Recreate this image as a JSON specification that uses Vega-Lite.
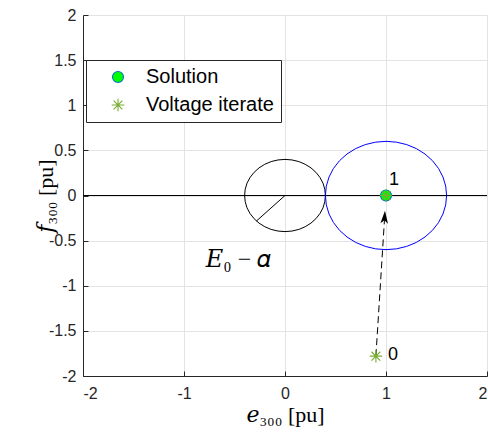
{
  "$schema": "https://vega.github.io/schema/vega-lite/v6.json",
  "autosize": {"type": "none"},
  "width": 404,
  "height": 361,
  "padding": {"left": 83, "top": 15, "right": 1, "bottom": 59},
  "background": "white",
  "view": {"stroke": null},
  "config": {
    "axis": {
      "labelFont": "Liberation Sans",
      "labelFontSize": 16,
      "labelColor": "#262626",
      "domainColor": "#262626",
      "tickColor": "#262626",
      "gridColor": "#e3e3e3",
      "titleFont": "Liberation Serif, DejaVu Serif",
      "titleFontSize": 22,
      "titleFontWeight": "normal",
      "titleColor": "#000000"
    }
  },
  "datasets": {
    "zero": [{"y": 0}],
    "black": [
      {"g": "E0", "k": 0, "x": 0.4, "y": 0},
      {"g": "E0", "k": 1, "x": 0.394, "y": 0.069},
      {"g": "E0", "k": 2, "x": 0.376, "y": 0.137},
      {"g": "E0", "k": 3, "x": 0.346, "y": 0.2},
      {"g": "E0", "k": 4, "x": 0.306, "y": 0.257},
      {"g": "E0", "k": 5, "x": 0.257, "y": 0.306},
      {"g": "E0", "k": 6, "x": 0.2, "y": 0.346},
      {"g": "E0", "k": 7, "x": 0.137, "y": 0.376},
      {"g": "E0", "k": 8, "x": 0.069, "y": 0.394},
      {"g": "E0", "k": 9, "x": 0, "y": 0.4},
      {"g": "E0", "k": 10, "x": -0.069, "y": 0.394},
      {"g": "E0", "k": 11, "x": -0.137, "y": 0.376},
      {"g": "E0", "k": 12, "x": -0.2, "y": 0.346},
      {"g": "E0", "k": 13, "x": -0.257, "y": 0.306},
      {"g": "E0", "k": 14, "x": -0.306, "y": 0.257},
      {"g": "E0", "k": 15, "x": -0.346, "y": 0.2},
      {"g": "E0", "k": 16, "x": -0.376, "y": 0.137},
      {"g": "E0", "k": 17, "x": -0.394, "y": 0.069},
      {"g": "E0", "k": 18, "x": -0.4, "y": 0},
      {"g": "E0", "k": 19, "x": -0.394, "y": -0.069},
      {"g": "E0", "k": 20, "x": -0.376, "y": -0.137},
      {"g": "E0", "k": 21, "x": -0.346, "y": -0.2},
      {"g": "E0", "k": 22, "x": -0.306, "y": -0.257},
      {"g": "E0", "k": 23, "x": -0.257, "y": -0.306},
      {"g": "E0", "k": 24, "x": -0.2, "y": -0.346},
      {"g": "E0", "k": 25, "x": -0.137, "y": -0.376},
      {"g": "E0", "k": 26, "x": -0.069, "y": -0.394},
      {"g": "E0", "k": 27, "x": 0, "y": -0.4},
      {"g": "E0", "k": 28, "x": 0.069, "y": -0.394},
      {"g": "E0", "k": 29, "x": 0.137, "y": -0.376},
      {"g": "E0", "k": 30, "x": 0.2, "y": -0.346},
      {"g": "E0", "k": 31, "x": 0.257, "y": -0.306},
      {"g": "E0", "k": 32, "x": 0.306, "y": -0.257},
      {"g": "E0", "k": 33, "x": 0.346, "y": -0.2},
      {"g": "E0", "k": 34, "x": 0.376, "y": -0.137},
      {"g": "E0", "k": 35, "x": 0.394, "y": -0.069},
      {"g": "E0", "k": 36, "x": 0.4, "y": 0},
      {"g": "R", "k": 0, "x": 0, "y": 0},
      {"g": "R", "k": 1, "x": -0.283, "y": -0.283}
    ],
    "blue": [
      {"k": 0, "x": 1.6, "y": 0},
      {"k": 1, "x": 1.591, "y": 0.104},
      {"k": 2, "x": 1.564, "y": 0.205},
      {"k": 3, "x": 1.52, "y": 0.3},
      {"k": 4, "x": 1.46, "y": 0.386},
      {"k": 5, "x": 1.386, "y": 0.46},
      {"k": 6, "x": 1.3, "y": 0.52},
      {"k": 7, "x": 1.205, "y": 0.564},
      {"k": 8, "x": 1.104, "y": 0.591},
      {"k": 9, "x": 1, "y": 0.6},
      {"k": 10, "x": 0.896, "y": 0.591},
      {"k": 11, "x": 0.795, "y": 0.564},
      {"k": 12, "x": 0.7, "y": 0.52},
      {"k": 13, "x": 0.614, "y": 0.46},
      {"k": 14, "x": 0.54, "y": 0.386},
      {"k": 15, "x": 0.48, "y": 0.3},
      {"k": 16, "x": 0.436, "y": 0.205},
      {"k": 17, "x": 0.409, "y": 0.104},
      {"k": 18, "x": 0.4, "y": 0},
      {"k": 19, "x": 0.409, "y": -0.104},
      {"k": 20, "x": 0.436, "y": -0.205},
      {"k": 21, "x": 0.48, "y": -0.3},
      {"k": 22, "x": 0.54, "y": -0.386},
      {"k": 23, "x": 0.614, "y": -0.46},
      {"k": 24, "x": 0.7, "y": -0.52},
      {"k": 25, "x": 0.795, "y": -0.564},
      {"k": 26, "x": 0.896, "y": -0.591},
      {"k": 27, "x": 1, "y": -0.6},
      {"k": 28, "x": 1.104, "y": -0.591},
      {"k": 29, "x": 1.205, "y": -0.564},
      {"k": 30, "x": 1.3, "y": -0.52},
      {"k": 31, "x": 1.386, "y": -0.46},
      {"k": 32, "x": 1.46, "y": -0.386},
      {"k": 33, "x": 1.52, "y": -0.3},
      {"k": 34, "x": 1.564, "y": -0.205},
      {"k": 35, "x": 1.591, "y": -0.104},
      {"k": 36, "x": 1.6, "y": 0}
    ],
    "arrow": [
      {"k": 0, "x": 0.9, "y": -1.78},
      {"k": 1, "x": 0.986, "y": -0.25}
    ],
    "head": [{"x": 0.986, "y": -0.24}],
    "points": [
      {"series": "Voltage iterate", "o": 0, "x": 0.9, "y": -1.78},
      {"series": "Solution", "o": 1, "x": 1, "y": 0},
      {"series": "Voltage iterate", "o": 2, "x": 1, "y": 0}
    ],
    "labels": [
      {"t": "0", "x": 1.02, "y": -1.765},
      {"t": "1", "x": 1.03, "y": 0.175}
    ],
    "mathlabel": [{"t": "𝐸₀ − 𝛼", "x": -0.46, "y": -0.71}]
  },
  "encoding": {
    "x": {
      "field": "x", "type": "quantitative",
      "scale": {"domain": [-2, 2], "nice": false, "zero": false},
      "axis": {
        "values": [-2, -1, 0, 1, 2],
        "title": "𝑒₃₀₀ [pu]",
        "titleY": 38,
        "titleBaseline": "middle",
        "labelPadding": 14,
        "tickSize": -5,
        "labelExpr": "'' + datum.value"
      }
    },
    "y": {
      "field": "y", "type": "quantitative",
      "scale": {"domain": [-2, 2], "nice": false, "zero": false},
      "axis": {
        "values": [-2, -1.5, -1, -0.5, 0, 0.5, 1, 1.5, 2],
        "title": "𝑓₃₀₀ [pu]",
        "titleX": -38,
        "titleBaseline": "middle",
        "labelPadding": 12,
        "tickSize": -5,
        "labelExpr": "'' + datum.value"
      }
    }
  },
  "layer": [
    {
      "data": {"name": "zero"},
      "mark": {"type": "rule", "color": "#000000", "strokeWidth": 1},
      "encoding": {"x": null}
    },
    {
      "data": {"name": "black"},
      "mark": {"type": "line", "strokeWidth": 1, "color": "#000000"},
      "encoding": {
        "order": {"field": "k", "type": "quantitative"},
        "detail": {"field": "g"}
      }
    },
    {
      "data": {"name": "blue"},
      "mark": {"type": "line", "strokeWidth": 1, "color": "#0000ff"},
      "encoding": {
        "order": {"field": "k", "type": "quantitative"}
      }
    },
    {
      "data": {"name": "arrow"},
      "mark": {"type": "line", "color": "#000000", "strokeWidth": 1, "strokeDash": [7, 4]},
      "encoding": {"order": {"field": "k", "type": "quantitative"}}
    },
    {
      "data": {"name": "head"},
      "mark": {"type": "point", "shape": "M0,-1L0.6,1L0,0.5L-0.6,1Z", "filled": true, "color": "#000000", "size": 160, "angle": 3.5, "opacity": 1}
    },
    {
      "data": {"name": "points"},
      "mark": {"type": "point", "opacity": 1, "strokeWidth": 1.1, "size": 120},
      "encoding": {
        "order": {"field": "o", "type": "quantitative"},
        "shape": {
          "field": "series", "type": "nominal",
          "scale": {"domain": ["Solution", "Voltage iterate"], "range": ["circle", "M-1.15,0L1.15,0M0,-1.15L0,1.15M-0.8,-0.8L0.8,0.8M-0.8,0.8L0.8,-0.8"]},
          "legend": {"title": null, "orient": "none", "legendX": 3, "legendY": 45, "direction": "vertical", "strokeColor": "#262626", "fillColor": "#ffffff", "padding": 7, "symbolOffset": 15, "labelOffset": 18, "labelFont": "Liberation Sans", "labelFontSize": 20, "labelColor": "#000000", "rowPadding": 8, "symbolSize": 120, "symbolStrokeWidth": 1.1}
        },
        "fill": {
          "field": "series", "type": "nominal",
          "scale": {"domain": ["Solution", "Voltage iterate"], "range": ["#00ff00", "transparent"]},
          "legend": {"title": null, "orient": "none", "legendX": 3, "legendY": 45, "direction": "vertical", "strokeColor": "#262626", "fillColor": "#ffffff", "padding": 7, "symbolOffset": 15, "labelOffset": 18, "labelFont": "Liberation Sans", "labelFontSize": 20, "labelColor": "#000000", "rowPadding": 8, "symbolSize": 120, "symbolStrokeWidth": 1.1}
        },
        "stroke": {
          "field": "series", "type": "nominal",
          "scale": {"domain": ["Solution", "Voltage iterate"], "range": ["#0072bd", "#77ac30"]},
          "legend": {"title": null, "orient": "none", "legendX": 3, "legendY": 45, "direction": "vertical", "strokeColor": "#262626", "fillColor": "#ffffff", "padding": 7, "symbolOffset": 15, "labelOffset": 18, "labelFont": "Liberation Sans", "labelFontSize": 20, "labelColor": "#000000", "rowPadding": 8, "symbolSize": 120, "symbolStrokeWidth": 1.1}
        }
      }
    },
    {
      "data": {"name": "labels"},
      "mark": {"type": "text", "align": "left", "baseline": "middle", "font": "Liberation Sans", "fontSize": 18, "color": "#000000"},
      "encoding": {"text": {"field": "t"}}
    },
    {
      "data": {"name": "mathlabel"},
      "mark": {"type": "text", "align": "center", "baseline": "middle", "font": "Liberation Serif, DejaVu Serif", "fontSize": 24, "color": "#000000"},
      "encoding": {"text": {"field": "t"}}
    }
  ]
}
